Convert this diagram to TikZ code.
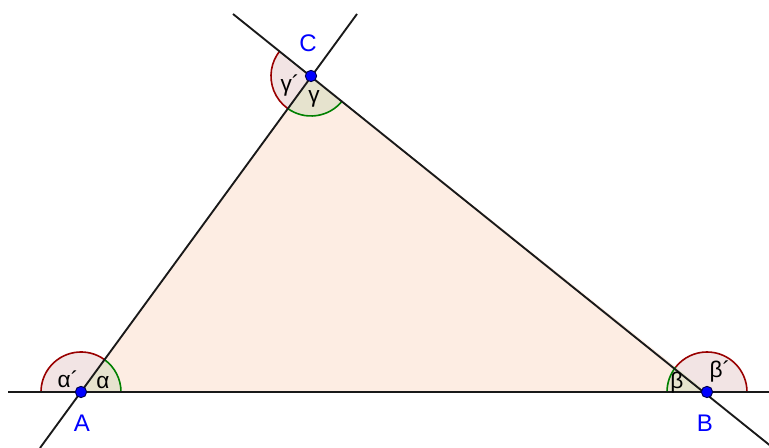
\documentclass[tikz,border=0pt]{standalone}
\usepackage{fontspec}
\setmainfont{Liberation Sans}
\definecolor{trifill}{RGB}{253,237,227}
\definecolor{redfill}{RGB}{242,228,228}
\definecolor{greenfill}{RGB}{230,227,206}
\definecolor{redarc}{RGB}{153,0,0}
\definecolor{greenarc}{RGB}{0,128,0}
\definecolor{ptblue}{RGB}{0,0,255}
\tikzset{
  lineseg/.style={draw=black!90, line width=1.4pt},
  arcred/.style={draw=redarc, line width=1.2pt},
  arcgreen/.style={draw=greenarc, line width=1.2pt},
  ptdot/.style={circle, fill=ptblue, draw=black!70!blue, line width=0.7pt, inner sep=0pt, minimum size=8.5pt},
  ptlabel/.style={text=ptblue, font=\fontsize{18}{20}\selectfont, inner sep=0pt},
  anglabel/.style={text=black, font=\fontsize{17}{20}\selectfont, inner sep=0pt}
}
\begin{document}
\begin{tikzpicture}[x=0.75pt,y=0.75pt]
\useasboundingbox (0,0) rectangle (769,448);
\clip (0,0) rectangle (769,448);
\coordinate (A) at (81,56);
\coordinate (B) at (707,56);
\coordinate (C) at (311,372);
\coordinate (hL) at (8,56);
\coordinate (hR) at (780,56);
\coordinate (acLow) at (40,0);
\coordinate (acHigh) at (357,434);
\coordinate (bcHigh) at (233,434);
\coordinate (bcLow) at (780,-5.5);
% triangle
\fill[trifill] (A) -- (B) -- (C) -- cycle;
% angle sectors
\def\R{40}
\fill[greenfill] (A) -- ++(0:\R) arc[start angle=0,end angle=53.95,radius=\R] -- cycle;
\fill[redfill] (A) -- ++(53.95:\R) arc[start angle=53.95,end angle=180,radius=\R] -- cycle;
\fill[greenfill] (B) -- ++(141.41:\R) arc[start angle=141.41,end angle=180,radius=\R] -- cycle;
\fill[redfill] (B) -- ++(0:\R) arc[start angle=0,end angle=141.41,radius=\R] -- cycle;
\fill[greenfill] (C) -- ++(-126.05:\R) arc[start angle=-126.05,end angle=-38.59,radius=\R] -- cycle;
\fill[redfill] (C) -- ++(141.41:\R) arc[start angle=141.41,end angle=233.95,radius=\R] -- cycle;
\draw[arcgreen] (A) ++(0:\R) arc[start angle=0,end angle=53.95,radius=\R];
\draw[arcred] (A) ++(53.95:\R) arc[start angle=53.95,end angle=180,radius=\R];
\draw[arcgreen] (B) ++(141.41:\R) arc[start angle=141.41,end angle=180,radius=\R];
\draw[arcred] (B) ++(0:\R) arc[start angle=0,end angle=141.41,radius=\R];
\draw[arcgreen] (C) ++(-126.05:\R) arc[start angle=-126.05,end angle=-38.59,radius=\R];
\draw[arcred] (C) ++(141.41:\R) arc[start angle=141.41,end angle=233.95,radius=\R];
% lines
\draw[lineseg] (hL) -- (hR);
\draw[lineseg] (acLow) -- (acHigh);
\draw[lineseg] (bcHigh) -- (bcLow);
% points
\node[ptdot] (pA) at (A) {};
\node[ptdot] (pB) at (B) {};
\node[ptdot] (pC) at (C) {};
% labels
\node[ptlabel] (lA) at (82,25) {A};
\node[ptlabel] (lB) at (705,25) {B};
\node[ptlabel] (lC) at (308,405) {C};
\node[anglabel] (la) at (103,65) {α};
\node[anglabel] (lap) at (68,69) {α´};
\node[anglabel] (lb) at (677,65) {β};
\node[anglabel] (lbp) at (720,76) {β´};
\node[anglabel] (lg) at (314,349) {γ};
\node[anglabel] (lgp) at (290,362) {γ´};
\end{tikzpicture}
\end{document}
